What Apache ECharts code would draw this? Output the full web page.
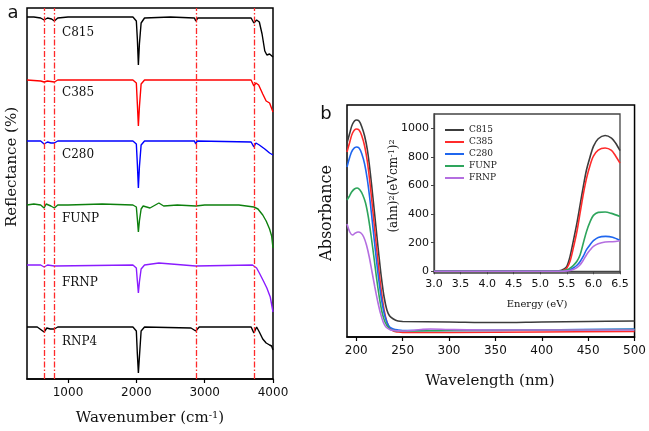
<!DOCTYPE html>
<html><head><meta charset="utf-8">
<script src="https://cdn.jsdelivr.net/npm/echarts@6/dist/echarts.min.js"></script>
<style>html,body{margin:0;padding:0;background:#fff}#c{width:649px;height:431px}</style>
</head><body><div id="c"></div>
<script>
// ---------- Panel a: FTIR reflectance (stacked, arbitrary offset units) ----------
const wnTicks = [1000, 2000, 3000, 4000];
const guideLines = [650, 800, 2870, 3720];
const ftirC815 = [[400,362],[500,362],[600,361],[650,359],[700,361],[760,360],[800,358],[850,361],[1000,362],[1500,362],[1950,362],[2000,358],[2015,340],[2030,314],[2045,335],[2070,356],[2120,361],[2500,362],[2850,361],[2870,358],[2900,361],[3500,361],[3680,361],[3720,356],[3760,359],[3800,357],[3840,345],[3880,328],[3910,324],[3950,325],[3970,323],[4000,322]];
const ftirC385 = [[400,299],[600,298],[650,297],[700,298],[800,297],[850,299],[1950,299],[2000,296],[2015,275],[2030,253],[2045,272],[2070,295],[2120,299],[2860,299],[2870,297],[2890,299],[3680,299],[3720,293],[3750,296],[3790,294],[3850,285],[3900,278],[3950,276],[4000,267]];
const ftirC280 = [[400,238],[600,238],[650,235],[700,237],[750,236],[800,236],[850,238],[1950,238],[2000,235],[2015,215],[2030,191],[2045,212],[2070,234],[2120,238],[2850,238],[2870,235],[2890,238],[3680,237],[3720,232],[3750,236],[3800,234],[3880,230],[3950,226],[4000,224]];
const ftirFUNP = [[400,174],[500,175],[600,174],[650,171],[680,175],[750,173],[800,171],[850,174],[1000,174],[1500,175],[1950,174],[2000,172],[2015,160],[2030,147],[2045,158],[2070,170],[2100,173],[2200,171],[2330,176],[2400,173],[2600,174],[2870,173],[3000,174],[3500,174],[3720,172],[3780,170],[3850,164],[3900,158],[3950,150],[3980,143],[4000,131]];
const ftirFRNP = [[400,114],[600,114],[650,112],[700,114],[800,113],[1950,114],[2000,111],[2015,98],[2030,86],[2045,97],[2070,110],[2120,114],[2330,116],[2870,113],[3700,114],[3720,112],[3760,111],[3800,106],[3860,98],[3910,91],[3960,82],[4000,67]];
const ftirRNP4 = [[400,52],[550,52],[650,47],[690,51],[740,50],[800,50],[850,52],[1950,52],[2000,48],[2015,25],[2030,6],[2045,22],[2070,48],[2120,52],[2800,51],[2870,48],[2920,52],[3680,52],[3720,46],[3760,52],[3800,47],[3850,40],[3900,36],[3950,34],[3980,33],[4000,29]];

// ---------- Panel b: UV-vis absorbance (arbitrary units) ----------
const wlTicks = [200, 250, 300, 350, 400, 450, 500];
const uvC815 = [[190,194],[193,204],[196,213],[200,217],[203,216],[206,210],[209,201],[212,187],[215,165],[218,139],[221,112],[224,85],[227,60],[230,40],[233,27],[236,21],[240,18],[245,16],[250,15.5],[300,15],[350,14.5],[400,15],[450,15.5],[500,16]];
const uvC385 = [[190,185],[193,195],[196,204],[200,208],[203,207],[206,201],[209,191],[212,175],[215,152],[218,125],[221,97],[224,70],[227,46],[230,27],[233,15],[236,9],[240,6],[245,5],[250,4.5],[300,4.5],[400,5],[500,5.5]];
const uvC280 = [[190,170],[193,180],[196,187],[200,190],[203,189],[206,183],[209,173],[212,157],[215,135],[218,109],[221,83],[224,59],[227,39],[230,24],[233,15],[236,10],[240,8],[245,7],[250,6.5],[300,6.5],[400,7],[500,8]];
const uvFUNP = [[190,137],[192,140],[195,145],[198,148],[201,149],[204,147],[207,142],[210,134],[213,120],[216,101],[219,80],[222,58],[225,39],[228,24],[231,15],[235,9],[240,6.5],[250,6],[300,6.5],[400,7],[500,7.5]];
const uvFRNP = [[190,113],[193,105],[196,102],[199,104],[202,105],[205,104],[208,100],[211,92],[214,80],[217,65],[220,50],[223,36],[226,24],[229,15],[232,10],[236,7.5],[240,6.5],[250,6],[270,7.5],[280,8],[300,7.5],[350,7],[400,7],[500,7]];

// ---------- Inset: Tauc plot (ahn)^2 vs energy ----------
const insetYTicks = [0, 200, 400, 600, 800, 1000];
const tcC815 = [[3.0,0],[3.5,0],[4.0,0],[4.5,0],[5.0,0],[5.2,0],[5.3,1],[5.35,3],[5.4,7],[5.45,16],[5.5,34],[5.56,104],[5.62,209],[5.69,338],[5.75,466],[5.81,594],[5.87,710],[5.94,804],[6.0,874],[6.09,927],[6.22,950],[6.34,932],[6.42,895],[6.5,843]];
const tcC385 = [[3.0,0],[3.5,0],[4.0,0],[4.5,0],[5.0,0],[5.2,0],[5.3,0],[5.35,1],[5.4,3],[5.45,9],[5.5,22],[5.56,70],[5.62,160],[5.69,280],[5.75,410],[5.81,540],[5.87,650],[5.94,745],[6.0,805],[6.09,848],[6.22,862],[6.34,845],[6.42,805],[6.5,757]];
const tcC280 = [[3.0,0],[3.5,0],[4.0,0],[4.5,0],[5.0,0],[5.2,0],[5.3,0],[5.4,1],[5.5,5],[5.56,11],[5.62,23],[5.69,42],[5.75,69],[5.81,106],[5.87,151],[5.94,188],[6.0,214],[6.09,237],[6.23,244],[6.36,238],[6.5,216]];
const tcFUNP = [[3.0,0],[3.5,0],[4.0,0],[4.5,0],[5.0,0],[5.2,0],[5.3,0],[5.4,2],[5.45,5],[5.5,10],[5.56,22],[5.62,40],[5.69,70],[5.75,116],[5.81,198],[5.87,279],[5.94,349],[6.0,391],[6.09,412],[6.22,415],[6.34,405],[6.5,384]];
const tcFRNP = [[3.0,0],[3.5,0],[4.0,0],[4.5,0],[5.0,0],[5.2,0],[5.3,0],[5.4,0.5],[5.5,3],[5.56,6],[5.62,12],[5.69,26],[5.75,46],[5.81,78],[5.87,116],[5.94,150],[6.0,174],[6.09,193],[6.22,205],[6.36,207],[6.5,214]];

const names = ['C815','C385','C280','FUNP','FRNP'];
const bColors = ['#3c3c3c','#ff2b2b','#1f66ee','#2ea55c','#b46ee0'];
const aNames = ['C815','C385','C280','FUNP','FRNP','RNP4'];
const aColors = ['#000000','#ff0000','#0000ff','#0d800d','#8a1cff','#000000'];
const aData = [ftirC815, ftirC385, ftirC280, ftirFUNP, ftirFRNP, ftirRNP4];
const uvData = [uvC815, uvC385, uvC280, uvFUNP, uvFRNP];
const tcData = [tcC815, tcC385, tcC280, tcFUNP, tcFRNP];

const SERIF = 'DejaVu Serif';
const SANS = 'DejaVu Sans';

const series = [];
tcData.forEach((d, i) => series.push({
  name: names[i], type: 'line', xAxisIndex: 2, yAxisIndex: 2, data: d,
  smooth: 0.3, showSymbol: false, lineStyle: {width: 1.6, color: bColors[i]}, itemStyle: {color: bColors[i]}, z: 5
}));
uvData.forEach((d, i) => series.push({
  name: names[i], type: 'line', xAxisIndex: 1, yAxisIndex: 1, data: d,
  smooth: 0.35, showSymbol: false, lineStyle: {width: 1.6, color: bColors[i]}, itemStyle: {color: bColors[i]}
}));
aData.forEach((d, i) => {
  const s = {
    name: 'FTIR ' + aNames[i], type: 'line', xAxisIndex: 0, yAxisIndex: 0, data: d,
    showSymbol: false, lineStyle: {width: 1.4, color: aColors[i]}, itemStyle: {color: aColors[i]}
  };
  if (i === 0) {
    s.markLine = {
      silent: true, symbol: 'none', label: {show: false},
      lineStyle: {color: '#ff2a2a', width: 1.3, type: [6, 2, 1.5, 2]},
      data: guideLines.map(v => ({xAxis: v}))
    };
  }
  series.push(s);
});

const plain = v => String(v);
const tickLabel = {fontFamily: SANS, fontSize: 12, color: '#111', formatter: plain};
const aLabelY = [33, 93, 155, 219, 283, 342];
const graphic = [
  {type: 'text', x: 13, y: 13, style: {text: 'a', font: '18px ' + SANS, fill: '#111', textAlign: 'center', textVerticalAlign: 'middle'}},
  {type: 'text', x: 326, y: 114, style: {text: 'b', font: '18px ' + SANS, fill: '#111', textAlign: 'center', textVerticalAlign: 'middle'}},
  {type: 'text', x: 12, y: 167, rotation: Math.PI / 2, style: {text: 'Reflectance (%)', font: '15px ' + SERIF, fill: '#111', textAlign: 'center', textVerticalAlign: 'middle'}},
  {type: 'text', x: 150, y: 418, style: {text: 'Wavenumber (cm{s|-1})', font: '15px ' + SERIF, fill: '#111', textAlign: 'center', textVerticalAlign: 'middle',
     rich: {s: {fontSize: 10, fontFamily: SERIF, verticalAlign: 'top', fill: '#111'}}}},
  {type: 'text', x: 327, y: 213, rotation: Math.PI / 2, style: {text: 'Absorbance', font: '16px ' + SERIF, fill: '#111', textAlign: 'center', textVerticalAlign: 'middle'}},
  {type: 'text', x: 490, y: 381, style: {text: 'Wavelength (nm)', font: '15px ' + SERIF, fill: '#111', textAlign: 'center', textVerticalAlign: 'middle'}},
  {type: 'text', x: 394, y: 186, rotation: Math.PI / 2, style: {text: '(ahn){s|2}(eVcm{s|-1}){s|2}', font: '12px ' + SERIF, fill: '#111', textAlign: 'center', textVerticalAlign: 'middle',
     rich: {s: {fontSize: 8, fontFamily: SERIF, verticalAlign: 'top', fill: '#111'}}}},
  {type: 'text', x: 537, y: 304, style: {text: 'Energy (eV)', font: '10px ' + SERIF, fill: '#111', textAlign: 'center', textVerticalAlign: 'middle'}}
];
aNames.forEach((n, i) => graphic.push({type: 'text', x: 62, y: aLabelY[i], style: {text: n, font: '12px ' + SERIF, fill: '#111', textAlign: 'left', textVerticalAlign: 'middle'}}));

const option = {
  animation: false,
  backgroundColor: '#fff',
  grid: [
    {left: 27, top: 8, width: 246, height: 371, show: true, borderColor: '#000', borderWidth: 1.5, backgroundColor: 'transparent'},
    {left: 347, top: 105, width: 288, height: 232, show: true, borderColor: '#000', borderWidth: 1.5, backgroundColor: 'transparent'},
    {left: 434, top: 114, width: 186, height: 159, show: true, borderColor: '#444', borderWidth: 1.3, backgroundColor: '#fff'}
  ],
  xAxis: [
    {type: 'value', gridIndex: 0, min: 400, max: 4000,
     axisLine: {show: true, lineStyle: {color: '#000', width: 1.5}},
     axisTick: {show: true, customValues: wnTicks, length: 4, lineStyle: {color: '#000', width: 1.2}},
     axisLabel: {customValues: wnTicks, margin: 8, ...tickLabel},
     splitLine: {show: false}},
    {type: 'value', gridIndex: 1, min: 190, max: 500,
     axisLine: {show: true, lineStyle: {color: '#000', width: 1.5}},
     axisTick: {show: true, customValues: wlTicks, length: 4, lineStyle: {color: '#000', width: 1.2}},
     axisLabel: {customValues: wlTicks, margin: 8, ...tickLabel},
     splitLine: {show: false}},
    {type: 'value', gridIndex: 2, min: 3, max: 6.5, interval: 0.5,
     axisLine: {show: true, lineStyle: {color: '#444', width: 1.3}},
     axisTick: {show: true, length: 3, lineStyle: {color: '#444'}},
     axisLabel: {margin: 6, fontFamily: SANS, fontSize: 11, color: '#111', formatter: v => v.toFixed(1)},
     splitLine: {show: false}}
  ],
  yAxis: [
    {type: 'value', gridIndex: 0, min: 0, max: 371, axisLine: {show: false}, axisTick: {show: false}, axisLabel: {show: false}, splitLine: {show: false}},
    {type: 'value', gridIndex: 1, min: 0, max: 232, axisLine: {show: false}, axisTick: {show: false}, axisLabel: {show: false}, splitLine: {show: false}},
    {type: 'value', gridIndex: 2, min: -12, max: 1100,
     axisLine: {show: true, lineStyle: {color: '#444', width: 1.3}},
     axisTick: {show: true, customValues: insetYTicks, length: 3, lineStyle: {color: '#444'}},
     axisLabel: {customValues: insetYTicks, margin: 5, fontFamily: SANS, fontSize: 11, color: '#111', formatter: plain},
     splitLine: {show: false}}
  ],
  legend: {
    data: names, orient: 'vertical', left: 445, top: 124, padding: 0,
    itemWidth: 19, itemHeight: 2, itemGap: 0, icon: 'rect',
    textStyle: {fontFamily: SERIF, fontSize: 9, lineHeight: 12, color: '#222'}
  },
  series: series,
  graphic: graphic
};
const chart = echarts.init(document.getElementById('c'), null, {renderer: 'canvas'});
chart.setOption(option);
</script></body></html>
